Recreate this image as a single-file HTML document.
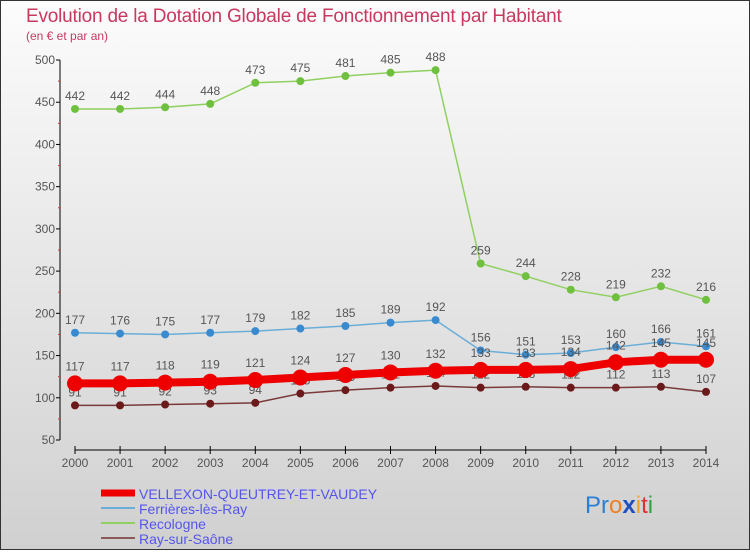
<!DOCTYPE html>
<html><head><meta charset="utf-8"><style>
html,body{margin:0;padding:0;}
body{width:750px;height:550px;overflow:hidden;font-family:"Liberation Sans",sans-serif;}
</style></head><body>
<svg id="chart" width="750" height="550" xmlns="http://www.w3.org/2000/svg">
<defs><linearGradient id="bg" x1="0" y1="0" x2="0" y2="1"><stop offset="0" stop-color="#fcfcfc"/><stop offset="1" stop-color="#d0d0d0"/></linearGradient></defs>
<rect x="0.5" y="0.5" width="749" height="549" fill="url(#bg)" stroke="#333"/>
<text x="26" y="22" font-size="19" fill="#c8385f" letter-spacing="-0.2">Evolution de la Dotation Globale de Fonctionnement par Habitant</text>
<text x="26" y="40" font-size="12" fill="#c8385f">(en € et par an)</text>
<g id="axes"></g><g id="series"></g><g id="legend"></g>
<text x="585" y="513" font-size="24"><tspan fill="#2a7fd0">Pr</tspan><tspan fill="#f08020">o</tspan><tspan fill="#2050c0" font-weight="bold">x</tspan><tspan fill="#f0a020">i</tspan><tspan fill="#e03030">t</tspan><tspan fill="#30a040">i</tspan></text>
</svg>
<script>
const years=[2000,2001,2002,2003,2004,2005,2006,2007,2008,2009,2010,2011,2012,2013,2014];
const vellexon=[117,117,118,119,121,124,127,130,132,133,133,134,142,145,145];
const ferrieres=[177,176,175,177,179,182,185,189,192,156,151,153,160,166,161];
const recologne=[442,442,444,448,473,475,481,485,488,259,244,228,219,232,216];
const raySurSaone=[91,91,92,93,94,105,109,112,114,112,113,112,112,113,107];
const yTicks=[50,100,150,200,250,300,350,400,450,500];
const NS="http://www.w3.org/2000/svg";
function xs(i){return 75+i*(706-75)/(years.length-1);}
function ys(v){return 440-(v-50)*(380/450);}
function mk(tag,attrs,parent,txt){const e=document.createElementNS(NS,tag);for(const k in attrs)e.setAttribute(k,attrs[k]);if(txt!==undefined)e.textContent=txt;parent.appendChild(e);return e;}
const axes=document.getElementById('axes');
let e=mk('line',{x1:60,y1:60,x2:60,y2:440,stroke:'#000','stroke-width':1},axes);


yTicks.forEach(v=>{
 const t=mk('line',{x1:56,y1:ys(v),x2:60,y2:ys(v),stroke:'#000'},axes);
 
 
 const l=mk('text',{x:55,y:ys(v)+4,'font-size':12,fill:'#555','text-anchor':'end'},axes,String(v));
 
 
 if(v<500){const m=mk('line',{x1:58,y1:ys(v+25),x2:60,y2:ys(v+25),stroke:'#e03030'},axes);
 
 }
});
e=mk('line',{x1:75,y1:450,x2:706,y2:450,stroke:'#000','stroke-width':1},axes);


years.forEach((y,i)=>{
 const t=mk('line',{x1:xs(i),y1:446,x2:xs(i),y2:454,stroke:'#000'},axes);
 
 
 const l=mk('text',{x:xs(i),y:467,'font-size':12,fill:'#555','text-anchor':'middle'},axes,String(y));
 
 
});
const series=document.getElementById('series');
const defs=[
 {d:recologne,c:'#8fd060',dot:'#70c040',w:1.5,r:4,name:'recologne'},
 {d:ferrieres,c:'#6aaed8',dot:'#3a8ad0',w:1.5,r:4,name:'ferrieres-les-ray'},
 {d:raySurSaone,c:'#7a3a3a',dot:'#6a1a1a',w:1.5,r:4,name:'ray-sur-saone'},
 {d:vellexon,c:'#ee0000',dot:'#ee0000',w:8,r:8,name:'vellexon'}
];
defs.forEach(s=>{
 const g=mk('g',{},series);
 
 
 const p=mk('polyline',{points:s.d.map((v,i)=>xs(i)+','+ys(v)).join(' '),fill:'none',stroke:s.c,'stroke-width':s.w},g);
 
 
 s.d.forEach((v,i)=>{
  const c=mk('circle',{cx:xs(i),cy:ys(v),r:s.r,fill:s.dot},g);
  
  
  const l=mk('text',{x:xs(i),y:ys(v)-(s.r+5),'font-size':12,fill:'#555','text-anchor':'middle'},g,String(v));
  
  
 });
});
const legend=document.getElementById('legend');
const leg=[['VELLEXON-QUEUTREY-ET-VAUDEY','#ee0000',7],['Ferrières-lès-Ray','#6aaed8',2],['Recologne','#8fd060',2],['Ray-sur-Saône','#8a5a5a',2]];
leg.forEach((L,i)=>{
 const y=493+i*15;
 const ln=mk('line',{x1:101,y1:y,x2:135,y2:y,stroke:L[1],'stroke-width':L[2]},legend);
 
 
 const t=mk('text',{x:139,y:y+6,'font-size':14,fill:'#5555ee'},legend,L[0]);
 
 
});
</script>
</body></html>
